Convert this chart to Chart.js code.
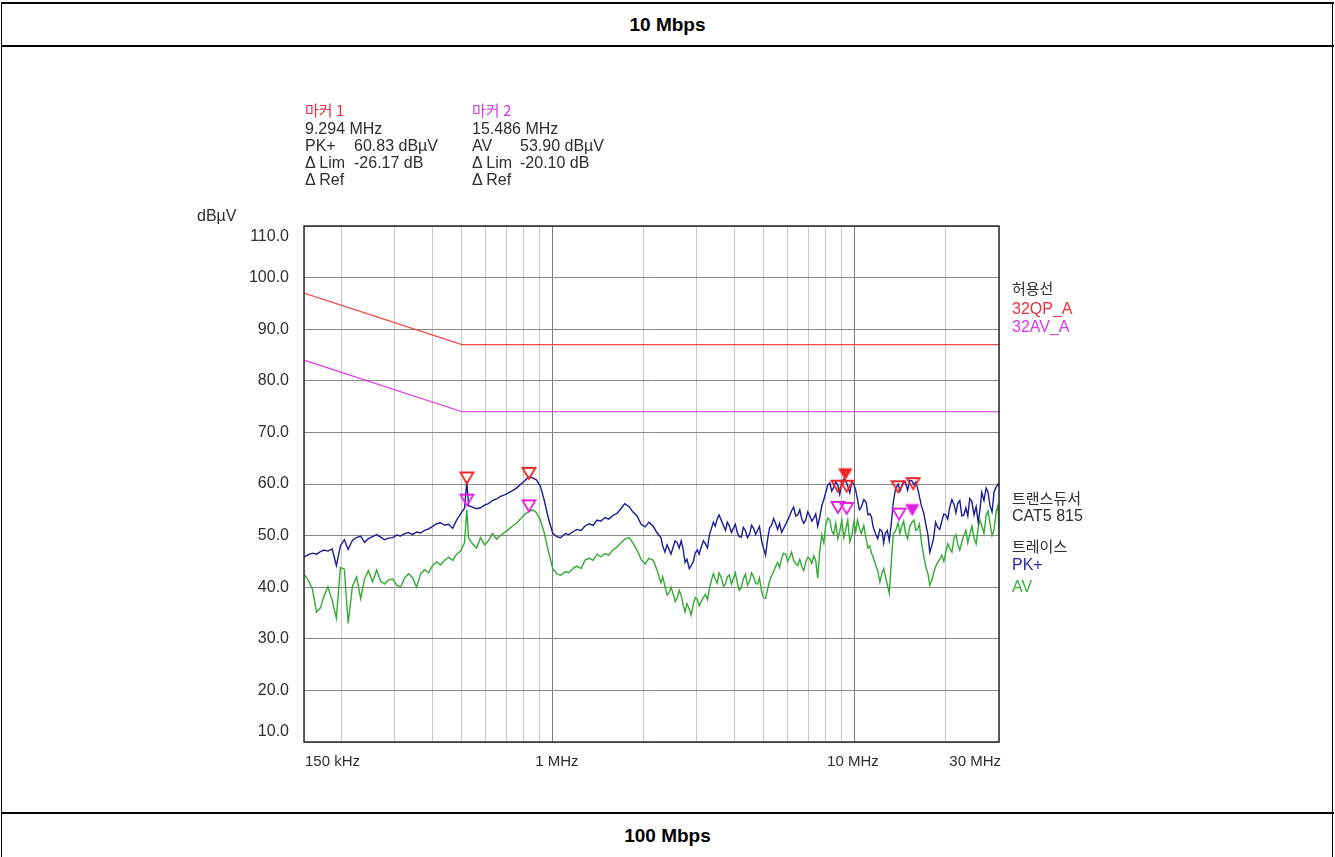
<!DOCTYPE html>
<html>
<head>
<meta charset="utf-8">
<title>10 Mbps 전도 방출</title>
<script src="https://cdn.jsdelivr.net/npm/chart.js@4.4.1/dist/chart.umd.min.js"></script>
<style>
  html, body { margin: 0; padding: 0; background: #fff; width: 1335px; height: 857px; overflow: hidden;
    font-family: "Liberation Sans", Arial, sans-serif; }
  .hl { position: absolute; left: 1px; width: 1333px; height: 2px; background: #000; }
  .vl { position: absolute; top: 2px; width: 1px; height: 855px; background: #000; }
  .row { position: absolute; left: 0; width: 1335px; text-align: center; font-weight: bold; font-size: 19px; line-height: 24px; color: #000; }
  #wrap { position: absolute; left: 0; top: 0; width: 1335px; height: 857px; z-index: 1; }
  .t { position: absolute; white-space: pre; font-size: 16px; line-height: 18px; color: #2e2e2e; z-index: 2; }
  .ko { font-family: "Noto Sans CJK KR", "Noto Sans", sans-serif; font-size: 15px; }
  .red { color: #e8303c; }
  .mag { color: #d838e0; }
  .blu { color: #2a2aa8; }
  .grn { color: #3cae3c; }
</style>
</head>
<body>
<!-- table frame -->
<div class="hl" style="top:2px"></div>
<div class="hl" style="top:45px"></div>
<div class="hl" style="top:812px"></div>
<div class="vl" style="left:1px"></div>
<div class="vl" style="left:1332px"></div>
<div class="row" style="top:13px">10 Mbps</div>
<div class="row" style="top:824px">100 Mbps</div>

<div id="wrap"><canvas id="emc"></canvas></div>

<!-- marker readout -->
<div class="t ko red" style="left:305px;top:101px">마커 1</div>
<div class="t" style="left:305px;top:120px">9.294 MHz</div>
<div class="t" style="left:305px;top:137px">PK+</div>
<div class="t" style="left:354px;top:137px">60.83 dBµV</div>
<div class="t" style="left:305px;top:154px">Δ Lim</div>
<div class="t" style="left:354px;top:154px">-26.17 dB</div>
<div class="t" style="left:305px;top:171px">Δ Ref</div>

<div class="t ko mag" style="left:472px;top:101px">마커 2</div>
<div class="t" style="left:472px;top:120px">15.486 MHz</div>
<div class="t" style="left:472px;top:137px">AV</div>
<div class="t" style="left:520px;top:137px">53.90 dBµV</div>
<div class="t" style="left:472px;top:154px">Δ Lim</div>
<div class="t" style="left:520px;top:154px">-20.10 dB</div>
<div class="t" style="left:472px;top:171px">Δ Ref</div>

<div class="t" style="left:197px;top:207px">dBµV</div>

<!-- right-hand legend -->
<div class="t ko" style="left:1012px;top:279px">허용선</div>
<div class="t red" style="left:1012px;top:300px">32QP_A</div>
<div class="t mag" style="left:1012px;top:318px">32AV_A</div>
<div class="t ko" style="left:1012px;top:489px">트랜스듀서</div>
<div class="t" style="left:1012px;top:507px">CAT5 815</div>
<div class="t ko" style="left:1012px;top:537px">트레이스</div>
<div class="t blu" style="left:1012px;top:556px">PK+</div>
<div class="t grn" style="left:1012px;top:578px">AV</div>

<script>
// Sweep frequencies (MHz) shared by both detector traces
const freqMHz = [
  0.150,0.155,0.160,0.165,0.170,0.175,0.180,0.186,0.192,0.198,
  0.204,0.210,0.217,0.224,0.231,0.238,0.245,0.253,0.261,0.269,
  0.277,0.286,0.295,0.304,0.313,0.323,0.333,0.343,0.354,0.365,
  0.376,0.388,0.400,0.412,0.425,0.438,0.452,0.466,0.480,0.495,
  0.510,0.519,0.526,0.542,0.559,0.576,0.594,0.612,0.631,0.651,
  0.671,0.692,0.713,0.735,0.758,0.781,0.805,0.830,0.856,0.882,
  0.909,0.937,0.966,1.00,1.03,1.06,1.10,1.13,1.17,1.20,
  1.24,1.28,1.32,1.36,1.40,1.44,1.49,1.53,1.58,1.63,
  1.68,1.73,1.79,1.84,1.90,1.96,2.02,2.08,2.15,2.21,
  2.28,2.31,2.35,2.39,2.43,2.46,2.50,2.54,2.58,2.62,
  2.66,2.70,2.74,2.78,2.83,2.87,2.92,2.96,3.01,3.05,
  3.10,3.15,3.20,3.25,3.30,3.35,3.40,3.45,3.50,3.55,
  3.61,3.67,3.73,3.78,3.84,3.90,3.96,4.02,4.08,4.14,
  4.21,4.27,4.34,4.41,4.48,4.55,4.62,4.69,4.76,4.83,
  4.91,4.98,5.06,5.14,5.22,5.30,5.38,5.46,5.55,5.63,
  5.72,5.81,5.90,5.99,6.08,6.17,6.27,6.37,6.47,6.57,
  6.67,6.77,6.87,6.98,7.09,7.20,7.31,7.42,7.53,7.65,
  7.77,7.89,8.01,8.13,8.26,8.38,8.51,8.64,8.78,8.91,
  9.05,9.19,9.33,9.47,9.62,9.77,9.92,10.06,10.2,10.35,
  10.5,10.7,10.9,11.05,11.2,11.35,11.5,11.7,11.9,12.1,
  12.3,12.45,12.6,12.8,13.0,13.2,13.4,13.65,13.9,14.1,
  14.3,14.5,14.7,14.95,15.2,15.45,15.7,15.9,16.1,16.35,
  16.6,16.9,17.2,17.45,17.7,17.95,18.2,18.5,18.8,19.1,
  19.4,19.7,20.0,20.3,20.6,20.95,21.3,21.6,21.9,22.25,
  22.6,22.95,23.3,23.65,24.0,24.4,24.8,25.2,25.6,25.95,
  26.3,26.75,27.2,27.6,28.0,28.45,28.9,29.35,29.8,30.0
];

// Peak (PK+) trace, dBµV
const pkPlus = [
  45.8,46.3,46.6,46.4,46.9,47.2,47.0,47.4,44.2,48.0,
  49.2,47.3,49.1,49.6,49.9,48.7,49.4,49.8,50.2,49.7,
  49.2,49.5,49.6,50.1,49.9,50.4,50.6,50.2,50.7,50.5,
  51.0,51.3,51.8,52.3,52.5,52.0,52.2,51.4,53.0,54.2,
  55.3,60.5,55.8,55.5,55.2,55.4,55.9,56.2,56.8,57.1,
  57.6,57.9,58.3,58.7,59.2,59.9,60.6,61.3,61.2,60.8,
  59.6,56.8,53.4,50.4,49.8,49.6,50.4,50.2,50.8,51.2,
  51.0,51.9,52.3,52.0,53.0,52.8,53.5,53.2,53.9,54.3,
  55.2,56.2,55.6,54.6,53.8,52.2,51.7,52.6,51.8,50.6,
  49.6,48.0,46.8,48.2,47.2,46.4,47.7,49.0,48.6,47.6,
  49.0,47.4,44.8,45.4,43.6,44.2,45.0,46.6,47.2,46.4,
  47.8,49.0,48.4,47.6,50.2,51.4,52.6,51.8,53.2,54.0,
  53.0,52.0,51.0,52.6,51.9,50.6,51.4,52.2,50.6,49.8,
  49.7,51.6,51.0,49.6,50.3,52.0,51.4,50.2,51.0,51.8,
  49.0,47.6,46.2,49.2,51.5,52.0,53.3,52.4,51.2,52.4,
  50.6,51.4,52.2,53.0,53.8,54.8,55.5,53.8,54.0,55.0,
  53.2,52.4,53.0,54.6,53.9,52.8,53.4,54.2,51.8,53.6,
  55.8,57.0,58.4,59.8,60.2,58.6,59.4,60.4,59.8,58.0,
  60.3,61.0,60.6,59.6,58.3,60.4,60.0,58.8,57.0,55.0,
  55.5,57.0,56.4,54.0,54.2,53.6,51.6,50.4,49.4,51.2,
  50.8,48.6,50.4,51.0,49.0,52.4,56.5,59.2,60.0,58.6,
  59.6,60.6,60.3,58.8,60.7,60.6,59.8,60.4,59.4,57.6,
  55.8,54.4,52.0,50.2,46.8,48.0,49.3,52.6,51.6,51.2,
  52.8,54.2,54.0,53.2,55.5,57.0,56.0,54.4,56.2,56.8,
  53.8,54.0,55.4,53.8,57.2,56.6,54.0,55.6,52.6,55.0,
  58.4,56.8,59.2,58.4,55.8,54.6,58.5,59.4,60.0,59.5
];

// Average (AV) trace, dBµV
const avTrace = [
  42.6,41.3,39.6,35.2,36.0,38.4,40.1,37.4,34.0,43.8,
  43.5,33.0,40.2,42.0,37.8,41.6,43.2,41.0,43.3,41.2,
  40.6,41.4,41.6,40.4,40.0,41.8,42.6,41.9,40.0,42.6,
  43.4,42.8,44.2,44.9,44.3,45.2,45.8,45.2,46.4,47.0,
  48.6,55.0,49.5,48.4,47.6,49.6,48.2,49.0,50.4,49.3,
  50.0,50.6,51.2,51.8,52.4,53.2,54.1,54.6,55.0,54.5,
  53.0,50.5,47.0,43.6,42.6,42.3,43.0,42.8,43.7,44.1,
  43.6,45.3,45.6,45.2,46.4,45.9,46.5,46.2,47.2,47.8,
  48.6,49.3,49.6,48.6,47.2,45.4,44.5,45.6,45.2,43.4,
  40.8,42.0,40.2,38.5,39.0,40.0,38.8,37.2,37.9,39.4,
  38.4,36.6,35.2,36.8,35.8,34.6,36.8,38.0,37.6,36.4,
  37.2,38.0,38.6,37.6,39.8,41.4,42.6,41.6,40.8,42.8,
  41.9,40.2,40.6,42.0,42.4,40.6,41.8,42.8,40.9,39.4,
  40.0,41.6,42.5,40.4,41.2,42.8,42.0,40.8,40.6,41.8,
  39.2,38.0,37.8,39.6,41.2,42.2,43.0,44.0,44.8,43.8,
  45.6,46.6,46.4,45.0,45.8,46.8,45.2,44.6,44.2,45.4,
  44.0,43.2,44.8,45.8,45.5,44.6,46.1,45.2,41.8,47.0,
  50.2,48.6,52.0,53.4,53.0,51.0,50.2,52.4,49.4,50.8,
  53.0,49.6,51.2,53.0,48.8,50.0,52.6,50.8,53.0,51.4,
  50.4,52.0,49.2,47.6,48.0,46.6,45.8,44.4,43.2,41.0,
  42.8,43.6,42.2,40.6,38.8,45.0,50.2,51.0,52.5,50.4,
  51.8,52.8,50.6,49.4,51.8,52.6,53.0,51.0,51.2,52.2,
  48.8,46.0,43.8,42.6,40.4,41.2,42.6,44.0,44.8,45.4,
  46.2,45.0,46.8,48.4,47.6,46.8,49.6,50.2,48.4,47.2,
  48.8,50.0,51.0,48.6,50.2,51.8,49.6,48.4,51.5,53.0,
  52.0,50.4,54.0,54.8,52.4,50.0,51.2,54.6,56.0,50.0
];

// CISPR 32 class A telecom-port limits
const limitFreq = [0.15, 0.5, 30];
const limitQP = [97, 87, 87];
const limitAV = [84, 74, 74];

// Final measurement results
const finalQpFreq = [0.519, 0.833, 8.79, 9.39, 13.9, 15.6];
const finalQpLevel = [60.1, 61.0, 58.5, 58.5, 58.4, 59.0];
const finalAvFreq = [0.519, 0.833, 8.79, 9.39, 14.0];
const finalAvLevel = [55.8, 54.7, 54.4, 54.2, 53.1];

// Readout markers 1 and 2
const markerFreq = [9.294, 15.486];
const markerLevel = [60.83, 53.90];

// Axis ticks
const yTicks = [10, 20, 30, 40, 50, 60, 70, 80, 90, 100, 110];
const xGrid = [0.15, 0.2, 0.3, 0.4, 0.5, 0.6, 0.7, 0.8, 0.9, 1, 2, 3, 4, 5, 6, 7, 8, 9, 10, 20, 30];
const xLabelFreq = [0.15, 1, 10, 30];
const xLabelText = ['150 kHz', '1 MHz', '10 MHz', '30 MHz'];

const pairs = (xs, ys) => xs.map((f, i) => ({ x: f, y: ys[i] }));

// Down-pointing triangle whose tip sits on the data point
function triangle(color, filled) {
  const c = document.createElement('canvas');
  c.width = 16; c.height = 28;
  const g = c.getContext('2d');
  g.beginPath();
  g.moveTo(8, 14);
  g.lineTo(1.5, 3);
  g.lineTo(14.5, 3);
  g.closePath();
  if (filled) { g.fillStyle = color; g.fill(); g.strokeStyle = color; g.lineWidth = 1; g.stroke(); }
  else { g.strokeStyle = color; g.lineWidth = 1.8; g.stroke(); }
  return c;
}
const RED = '#ee2626', MAG = '#e020e0';

const labelsPlugin = {
  id: 'emcLabels',
  afterDraw(chart) {
    const { ctx, chartArea: a, scales: { x, y } } = chart;
    ctx.save();
    ctx.strokeStyle = '#2a2a2a';
    ctx.lineWidth = 1.5;
    ctx.strokeRect(a.left, a.top, a.right - a.left, a.bottom - a.top);

    ctx.fillStyle = '#2e2e2e';
    ctx.font = '16px "Liberation Sans", Arial, sans-serif';
    ctx.textAlign = 'right';
    ctx.textBaseline = 'middle';
    yTicks.forEach(v => {
      let py = y.getPixelForValue(v);
      py = Math.min(Math.max(py, a.top + 11), a.bottom - 10);
      ctx.fillText(v.toFixed(1), a.left - 15, py);
    });

    ctx.font = '15px "Liberation Sans Narrow", "Liberation Sans", Arial, sans-serif';
    const ly = a.bottom + 20;
    xLabelFreq.forEach((f, i) => {
      const px = x.getPixelForValue(f);
      if (i === 0) { ctx.textAlign = 'left'; ctx.fillText(xLabelText[i], px + 1, ly); }
      else if (i === xLabelFreq.length - 1) { ctx.textAlign = 'right'; ctx.fillText(xLabelText[i], px + 2, ly); }
      else { ctx.textAlign = 'center'; ctx.fillText(xLabelText[i], px + (i === 1 ? 4 : -2), ly); }
    });
    ctx.restore();
  }
};

new Chart(document.getElementById('emc'), {
  type: 'line',
  data: {
    datasets: [
      { label: 'Marker', data: pairs(markerFreq, markerLevel), showLine: false, order: 0,
        pointStyle: [triangle(RED, true), triangle(MAG, true)], pointRadius: 7 },
      { label: 'QP final', data: pairs(finalQpFreq, finalQpLevel), showLine: false, order: 1,
        pointStyle: triangle(RED, false), pointRadius: 7 },
      { label: 'AV final', data: pairs(finalAvFreq, finalAvLevel), showLine: false, order: 1,
        pointStyle: triangle(MAG, false), pointRadius: 7 },
      { label: 'PK+', data: pairs(freqMHz, pkPlus), borderColor: '#1c1c94', borderWidth: 1.4,
        pointRadius: 0, order: 2 },
      { label: 'AV', data: pairs(freqMHz, avTrace), borderColor: '#33aa33', borderWidth: 1.4,
        pointRadius: 0, order: 3 },
      { label: '32QP_A', data: pairs(limitFreq, limitQP), borderColor: '#f04848', borderWidth: 1.2,
        pointRadius: 0, order: 4 },
      { label: '32AV_A', data: pairs(limitFreq, limitAV), borderColor: '#e030e0', borderWidth: 1.2,
        pointRadius: 0, order: 4 }
    ]
  },
  options: {
    responsive: true,
    maintainAspectRatio: false,
    animation: false,
    devicePixelRatio: 1,
    events: [],
    layout: { padding: { left: 304, top: 226, right: 336, bottom: 115 } },
    plugins: { legend: { display: false }, tooltip: { enabled: false } },
    scales: {
      x: {
        type: 'logarithmic', min: 0.15, max: 30,
        afterBuildTicks: s => { s.ticks = xGrid.map(v => ({ value: v })); },
        afterFit: s => { s.height = 0; },
        ticks: { display: false, autoSkip: false },
        border: { display: false },
        grid: {
          drawTicks: false, lineWidth: 1,
          color: c => (c.tick && (c.tick.value === 1 || c.tick.value === 10)) ? '#7c7c7c' : '#c8c8c8'
        }
      },
      y: {
        type: 'linear', min: 10, max: 110,
        afterBuildTicks: s => { s.ticks = yTicks.map(v => ({ value: v })); },
        afterFit: s => { s.width = 0; },
        ticks: { display: false },
        border: { display: false },
        grid: { drawTicks: false, lineWidth: 1, color: '#8a8a8a' }
      }
    }
  },
  plugins: [labelsPlugin]
});
</script>
</body>
</html>
